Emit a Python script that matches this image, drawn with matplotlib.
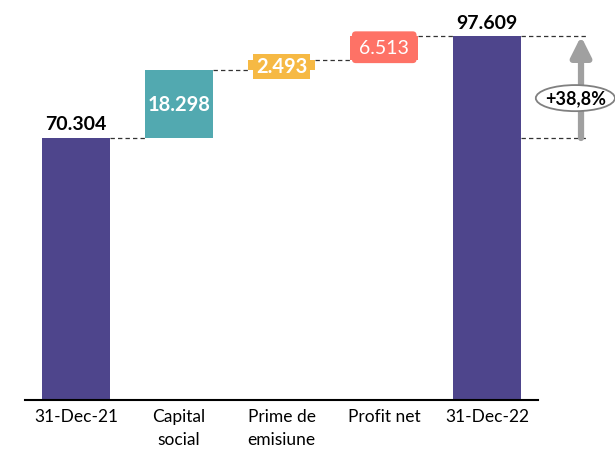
import matplotlib.pyplot as plt
from matplotlib.patches import Ellipse

plt.rcParams['font.family'] = ['Lato', 'DejaVu Sans']

categories = ['31-Dec-21', 'Capital\nsocial', 'Prime de\nemisiune', 'Profit net', '31-Dec-22']
values = [70.304, 18.298, 2.493, 6.513, 97.609]
labels = ['70.304', '18.298', '2.493', '6.513', '97.609']
change_label = '+38,8%'

purple = '#4E458C'
teal = '#52A9B0'
yellow = '#F6B944'
red = '#FE7266'
colors = [purple, teal, yellow, red, purple]


def main():
    fig = plt.figure(figsize=(6.15, 4.52), dpi=100)
    ax = fig.add_axes([0, 51 / 452, 1, 401 / 452])

    # waterfall bottoms
    bottoms = [0]
    run = values[0]
    for v in values[1:-1]:
        bottoms.append(run)
        run += v
    bottoms.append(0)
    tops = [b + v for b, v in zip(bottoms, values)]

    x = list(range(len(values)))
    w = 0.66
    ax.bar(x, values, bottom=bottoms, width=w, color=colors, zorder=2)

    # connectors
    dash = (0, (3.5, 2.5))
    for i in range(len(values) - 1):
        ax.plot([i + w / 2, i + 1 - w / 2], [tops[i], tops[i]],
                ls=dash, color='#333333', lw=0.9, zorder=1)
    ax.plot([4 + w / 2, 4.98], [tops[0], tops[0]], ls=dash, color='#333333', lw=0.9)
    ax.plot([4 + w / 2, 4.98], [tops[4], tops[4]], ls=dash, color='#333333', lw=0.9)

    # value labels
    ax.text(0, tops[0] + 1.5, labels[0], ha='center', va='bottom',
            fontsize=14, fontweight='bold', color='black')
    ax.text(4, tops[4] + 1.5, labels[4], ha='center', va='bottom',
            fontsize=14, fontweight='bold', color='black')
    ax.text(1, bottoms[1] + values[1] / 2, labels[1], ha='center', va='center',
            fontsize=14.5, fontweight='bold', color='white', zorder=3)
    ax.text(2, bottoms[2] + values[2] / 2 - 0.3, labels[2], ha='center', va='center',
            fontsize=14.5, fontweight='bold', color='white', zorder=3,
            bbox=dict(boxstyle='square,pad=0.12', fc=yellow, ec='none'))
    ax.text(3, bottoms[3] + values[3] / 2 + 0.3, labels[3], ha='center', va='center',
            fontsize=14, color='white', zorder=3,
            bbox=dict(boxstyle='round,pad=0.38,rounding_size=0.2', fc=red, ec='none'))

    # growth arrow
    ax.annotate('', xy=(4.915, tops[4]), xytext=(4.915, tops[0]),
                arrowprops=dict(arrowstyle='-|>,head_width=0.6,head_length=1.2',
                                color='#A0A0A0', lw=4.5, shrinkA=0, shrinkB=0))
    ax.add_patch(Ellipse((4.86, 81.0), 0.77, 7.0, fc='white', ec='#808080',
                         lw=1.3, zorder=4))
    ax.text(4.86, 81.0, change_label, ha='center', va='center',
            fontsize=13, fontweight='bold', color='black', zorder=5)

    ax.set_xlim(-76 / 102.75, 539 / 102.75)
    ax.set_ylim(0, 401 / 3.727)
    ax.set_xticks(x)
    ax.set_xticklabels(categories, fontsize=12.5, linespacing=1.55)
    ax.tick_params(axis='x', length=0, pad=6)
    ax.set_yticks([])
    for s in ['top', 'right', 'left']:
        ax.spines[s].set_visible(False)
    ax.spines['bottom'].set_bounds(-0.5, 4.5)
    ax.spines['bottom'].set_linewidth(1.5)
    ax.patch.set_alpha(0)

    plt.savefig('out.png', dpi=100)


if __name__ == "__main__":
    main()
